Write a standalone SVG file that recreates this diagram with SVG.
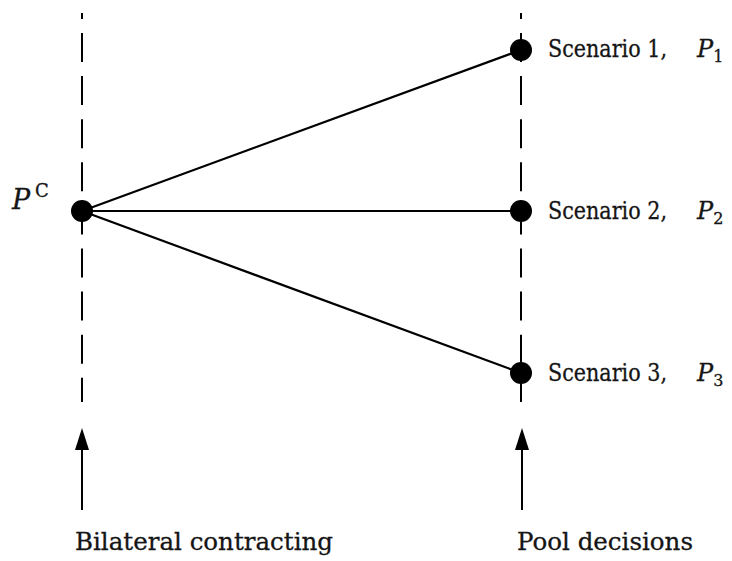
<svg xmlns="http://www.w3.org/2000/svg" width="732" height="561" viewBox="0 0 732 561">
<style>
.dash{stroke:#000;stroke-width:2;stroke-dasharray:29 14.1;stroke-dashoffset:23.1;fill:none}
.edge{stroke:#000;stroke-width:2.2;fill:none}
.dot{fill:#000}
.t{font-family:"DejaVu Serif",serif;font-size:24px;fill:#151515;stroke:#151515;stroke-width:0.3}
.i{font-style:italic}
.s{font-size:16px}
</style>
<rect width="732" height="561" fill="#fff"/>
<g id="timelines">
<line class="dash" x1="82" y1="13" x2="82" y2="402"/>
<line class="dash" x1="521" y1="13" x2="521" y2="402"/>
</g>
<g id="connectors">
<line class="edge" x1="82" y1="211" x2="521" y2="50"/>
<line class="edge" x1="82" y1="211" x2="521" y2="211"/>
<line class="edge" x1="82" y1="211" x2="521" y2="373"/>
<path d="M82,510 V450" stroke="#000" stroke-width="2"/>
<path d="M75,450 L82,428 L89,450 Z" fill="#000"/>
<path d="M522,510 V450" stroke="#000" stroke-width="2"/>
<path d="M515,450 L522,428 L529,450 Z" fill="#000"/>
</g>
<g id="node-pc">
<circle class="dot" cx="82" cy="211" r="11"/>
<text class="t" x="12" y="209"><tspan class="i" style="font-size:27px">P</tspan><tspan class="s" x="35" dy="-12" style="font-size:18px">C</tspan></text>
</g>
<g id="node-s1">
<circle class="dot" cx="521" cy="50" r="11"/>
<text class="t" x="548" y="57"><tspan textLength="119" lengthAdjust="spacingAndGlyphs">Scenario 1,</tspan><tspan class="i" x="697">P</tspan><tspan class="s" dy="5">1</tspan></text>
</g>
<g id="node-s2">
<circle class="dot" cx="521" cy="211" r="11"/>
<text class="t" x="548" y="219"><tspan textLength="119" lengthAdjust="spacingAndGlyphs">Scenario 2,</tspan><tspan class="i" x="697">P</tspan><tspan class="s" dy="5">2</tspan></text>
</g>
<g id="node-s3">
<circle class="dot" cx="521" cy="373" r="11"/>
<text class="t" x="548" y="381"><tspan textLength="119" lengthAdjust="spacingAndGlyphs">Scenario 3,</tspan><tspan class="i" x="697">P</tspan><tspan class="s" dy="5">3</tspan></text>
</g>
<g id="label-bilateral">
<text class="t" x="75" y="550" textLength="258" lengthAdjust="spacingAndGlyphs">Bilateral contracting</text>
</g>
<g id="label-pool">
<text class="t" x="517" y="550" textLength="176" lengthAdjust="spacingAndGlyphs">Pool decisions</text>
</g>
</svg>
